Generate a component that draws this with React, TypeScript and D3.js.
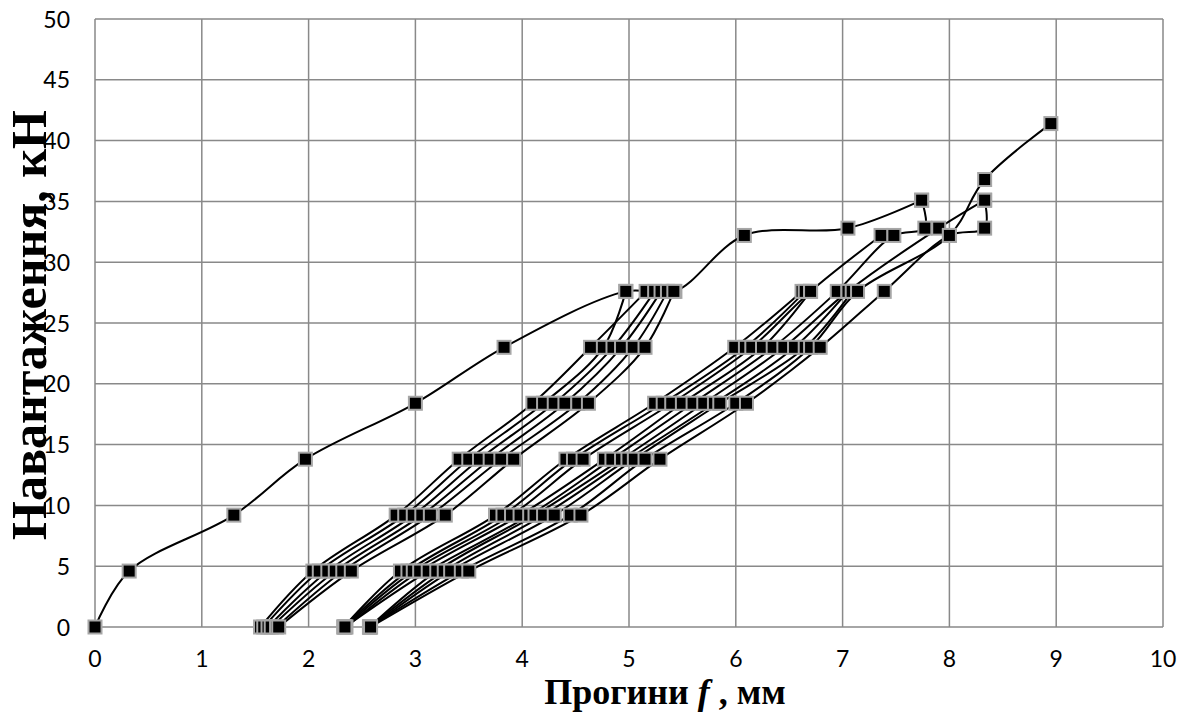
import React, { useEffect, useRef } from 'react';
import * as d3 from 'd3';

// load levels, kN
const loadSteps = [0, 4.6, 9.2, 13.8, 18.4, 23.0, 27.6];

// first specimen (goes further, to 35.1 kN)
const s0Defl = [0, 0.32, 1.3, 1.97, 3.0, 3.83, 4.97, 5.43, 6.08, 7.05, 7.74];
const s0Load = [0, 4.6, 9.2, 13.8, 18.4, 23.0, 27.6, 27.6, 32.2, 32.8, 35.1];

// left bundle of curves (deflection at each load step)
const groupA = [
  [1.55, 2.04, 2.82, 3.41, 4.10, 4.64, 5.16],
  [1.58, 2.10, 2.90, 3.50, 4.20, 4.76, 4.97],
  [1.62, 2.18, 2.98, 3.60, 4.30, 4.85, 5.24],
  [1.65, 2.25, 3.06, 3.70, 4.40, 4.93, 5.30],
  [1.70, 2.32, 3.14, 3.80, 4.52, 5.04, 5.36],
  [1.72, 2.40, 3.28, 3.92, 4.62, 5.15, 5.42],
];

// right bundle of curves
const groupB = [
  [2.33, 2.86, 3.75, 4.41, 5.24, 5.99, 6.62],
  [2.33, 2.93, 3.82, 4.48, 5.32, 6.09, 6.65],
  [2.34, 2.98, 3.90, 4.57, 5.40, 6.15, 6.70],
  [2.35, 3.04, 3.98, 4.77, 5.50, 6.25, 6.70],
  [2.34, 3.12, 4.07, 4.84, 5.60, 6.35, 6.95],
  [2.57, 3.20, 4.12, 4.93, 5.70, 6.45, 7.05],
  [2.57, 3.27, 4.20, 4.99, 5.80, 6.55, 7.05],
  [2.58, 3.33, 4.30, 5.05, 5.85, 6.65, 7.09],
  [2.57, 3.43, 4.45, 5.15, 6.00, 6.70, 7.14],
  [2.58, 3.50, 4.55, 5.29, 6.10, 6.79, 7.39],
];

// extra points of the right bundle above 27.6 kN (index of curve in groupB)
const tailCurve = [2, 4, 5, 8, 9];
const tailDefl = [[7.36], [7.48, 7.77, 7.74], [7.9, 8.33], [8.0, 8.33, 8.95], [8.0, 8.33, 8.33]];
const tailLoad = [[32.2], [32.2, 32.8, 35.1], [32.8, 35.1], [32.2, 36.8, 41.4], [32.2, 32.8, 35.1]];

const xTicks = d3.range(0, 11, 1);
const yTicks = d3.range(0, 51, 5);

export default function App() {
  const svgRef = useRef<SVGSVGElement>(null);
  const W = 1189;
  const H = 724;

  useEffect(() => {
    if (!svgRef.current) return;
    const svg = d3.select(svgRef.current);
    svg.selectAll('*').remove();

    const margin = { top: 19, right: 26, bottom: 97, left: 95 };
    const width = W - margin.left - margin.right;
    const height = H - margin.top - margin.bottom;

    const x = d3.scaleLinear().domain([0, 10]).range([0, width]);
    const y = d3.scaleLinear().domain([0, 50]).range([height, 0]);

    const g = svg.append('g').attr('transform', `translate(${margin.left},${margin.top})`);

    // grid
    g.selectAll('.vg').data(xTicks).enter().append('line')
      .attr('x1', d => x(d)).attr('x2', d => x(d))
      .attr('y1', 0).attr('y2', height)
      .attr('stroke', '#898989').attr('stroke-width', 1.5);
    g.selectAll('.hg').data(yTicks).enter().append('line')
      .attr('x1', 0).attr('x2', width)
      .attr('y1', d => y(d)).attr('y2', d => y(d))
      .attr('stroke', '#898989').attr('stroke-width', 1.5);

    // tick labels
    g.selectAll('.xt').data(xTicks).enter().append('text')
      .attr('x', d => x(d)).attr('y', height + 40)
      .attr('text-anchor', 'middle')
      .style('font-family', 'Lato, "Open Sans", sans-serif').style('font-size', '23px')
      .text(d => d);
    g.selectAll('.yt').data(yTicks).enter().append('text')
      .attr('x', -25).attr('y', d => y(d) + 8.5)
      .attr('text-anchor', 'end')
      .style('font-family', 'Lato, "Open Sans", sans-serif').style('font-size', '23px')
      .text(d => d);

    // build series
    const series: [number, number][][] = [];
    series.push(s0Defl.map((d, i) => [d, s0Load[i]] as [number, number]));
    groupA.forEach(row => series.push(row.map((d, i) => [d, loadSteps[i]] as [number, number])));
    groupB.forEach((row, k) => {
      const pts = row.map((d, i) => [d, loadSteps[i]] as [number, number]);
      const t = tailCurve.indexOf(k);
      if (t >= 0) tailDefl[t].forEach((d, i) => pts.push([d, tailLoad[t][i]]));
      series.push(pts);
    });

    const line = d3.line<[number, number]>()
      .x(d => x(d[0]))
      .y(d => y(d[1]))
      .curve(d3.curveCatmullRom.alpha(0.5));

    series.forEach(pts => {
      g.append('path')
        .datum(pts)
        .attr('fill', 'none')
        .attr('stroke', '#000')
        .attr('stroke-width', 2)
        .attr('d', line);
    });

    series.forEach(pts => {
      g.selectAll(null).data(pts).enter().append('rect')
        .attr('x', d => x(d[0]) - 6.5)
        .attr('y', d => y(d[1]) - 6.5)
        .attr('width', 13).attr('height', 13)
        .attr('fill', '#000')
        .attr('stroke', '#a6a6a6').attr('stroke-width', 2);
    });

    // axis titles
    const xt = svg.append('text')
      .attr('x', 665).attr('y', H - 20)
      .attr('text-anchor', 'middle')
      .style('font-family', '"Liberation Serif", "Times New Roman", serif')
      .style('font-weight', 'bold').style('font-size', '36px');
    xt.append('tspan').text('Прогини ');
    xt.append('tspan').style('font-style', 'italic').text('f');
    xt.append('tspan').text(' , мм');

    svg.append('text')
      .attr('transform', 'translate(46,325) rotate(-90)')
      .attr('text-anchor', 'middle')
      .style('font-family', '"Liberation Serif", "Times New Roman", serif')
      .style('font-weight', 'bold').style('font-size', '50px')
      .text('Навантаження, кН');
  }, []);

  return (
    <svg
      ref={svgRef}
      width={W}
      height={H}
      style={{ position: 'absolute', left: 0, top: 0, background: '#fff' }}
    />
  );
}
